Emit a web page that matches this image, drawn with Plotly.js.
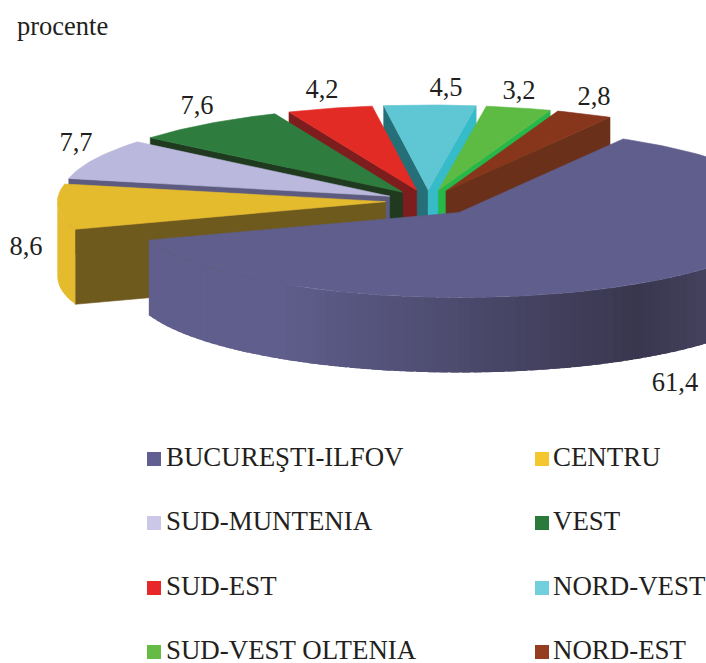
<!DOCTYPE html>
<html>
<head>
<meta charset="utf-8">
<script src="https://cdn.plot.ly/plotly-3.0.1.min.js"></script>
<style>html,body{margin:0;padding:0;background:#fff}#chart{width:706px;height:663px}</style>
</head>
<body>
<div id="chart"></div>
<script>
const regions = ["BUCUREŞTI-ILFOV","CENTRU","SUD-MUNTENIA","VEST","SUD-EST","NORD-VEST","SUD-VEST OLTENIA","NORD-EST"];
const shares = [61.4,8.6,7.7,7.6,4.2,4.5,3.2,2.8];
const topColors = ["#5f5e8c","#e5bb2e","#bab8dc","#2e7d3e","#e32b26","#5fc6d3","#5dbb43","#87361c"];
const legendColors = ["#615f91","#f5c72e","#cac8e6","#2a7a3c","#e8272a","#72cfdc","#66bb44","#963c20"];
const hiWallColors = ["#5f5e8c","#6f5a1e","#5d5b80","#1f3a1f","#7e1d1e","#257078","#27b84a","#6b3019"];
const loWallColors = ["#5f5e8c","#6f5a1e","#5d5b80","#1f3a1f","#7e1d1e","#35bcc8","#27b84a","#6b3019"];
const valueLabelX = [675,26,76,197,322,446,519,594];
const valueLabelY = [384,248,144,107,91,89,92,98];

const CX=428, CY=201, RX=328, RY=85, DEPTH=75, EXPLODE=0.13, START=60;
const rad=d=>d*Math.PI/180;
const total=shares.reduce((a,b)=>a+b,0);
let cursor=START;
const slices=shares.map((v,i)=>{
  const hi=cursor, lo=cursor-v/total*360; cursor=lo;
  const mid=(hi+lo)/2;
  return {i,hi,lo,mid,
    ox:CX+EXPLODE*RX*Math.cos(rad(mid))+(i===0?4:0),
    oy:CY-EXPLODE*RY*Math.sin(rad(mid))+(i===0?3:0)};
});
const rim=(s,a,dz)=>[s.ox+RX*Math.cos(rad(a)), s.oy-RY*Math.sin(rad(a))+dz];
const traces=[];
function poly(pts,color){
  traces.push({type:"scatter",mode:"lines",x:pts.map(p=>p[0]),y:pts.map(p=>p[1]),
    fill:"toself",fillcolor:color,line:{color:color,width:0.6},hoverinfo:"skip",showlegend:false});
}
function mix(a,b,t){
  const h=c=>[1,3,5].map(k=>parseInt(c.substr(k,2),16));
  const A=h(a),B=h(b);
  return "rgb("+A.map((v,k)=>Math.round(v+(B[k]-v)*t)).join(",")+")";
}
function blueShade(x){
  const t=(x-280)/(640-280);
  if(t<0) return "#5f5e8c";
  if(t<=1) return mix("#5f5e8c","#39364e",t);
  return mix("#39364e","#45425f",Math.min(1,(x-640)/70));
}
function cutFace(s,a,color){
  const p=rim(s,a,0), q=rim(s,a,DEPTH);
  poly([[s.ox,s.oy],p,q,[s.ox,s.oy+DEPTH],[s.ox,s.oy]],color);
}
function drawSlice(s){
  const i=s.i;
  if(Math.cos(rad(s.hi))<0) cutFace(s,s.hi,hiWallColors[i]);
  if(Math.cos(rad(s.lo))>0) cutFace(s,s.lo,loWallColors[i]);
  // Outer wall: each strip overlaps the previous one, so no seams show through.
  const strips=[];
  for(let a=s.hi;a>s.lo;a-=2) strips.push([a,Math.max(a-2,s.lo)]);
  strips.filter(([a,b])=>Math.sin(rad((a+b)/2))<0).forEach(([a,b])=>{
    const e=Math.max(b-1.5,s.lo);
    const p1=rim(s,a,0),p2=rim(s,e,0),p3=rim(s,e,DEPTH),p4=rim(s,a,DEPTH);
    const arcTop=[p1,rim(s,(a+e)/2,0),p2], arcBot=[p3,rim(s,(a+e)/2,DEPTH),p4];
    const col=i===0?blueShade((p1[0]+rim(s,b,0)[0])/2):topColors[i];
    traces.push({type:"scatter",mode:"lines",x:[...arcTop,...arcBot,p1].map(p=>p[0]),y:[...arcTop,...arcBot,p1].map(p=>p[1]),
      fill:"toself",fillcolor:col,line:{width:0},hoverinfo:"skip",showlegend:false});
  });
  const top=[[s.ox,s.oy]];
  for(let a=s.hi;a>s.lo;a-=1) top.push(rim(s,a,0));
  top.push(rim(s,s.lo,0)); top.push([s.ox,s.oy]);
  poly(top,topColors[i]);
}
[...slices].sort((a,b)=>Math.sin(rad(b.mid))-Math.sin(rad(a.mid))).forEach(drawSlice);

const font={family:"Liberation Serif",size:26.5,color:"#231f20"};
const legendFont={family:"Liberation Serif",size:26.9,color:"#231f20"};
traces.push({type:"scatter",mode:"text",x:valueLabelX,y:valueLabelY,
  text:shares.map(v=>v.toFixed(1).replace(".",",")),textposition:"middle center",
  textfont:font,hoverinfo:"skip",showlegend:false});

const legendRowY=[459,523,588,652];
const legendColX=[154,542];
const legendTextX=[166,553];
const legX=regions.map((_,i)=>legendColX[i%2]);
const legTX=regions.map((_,i)=>legendTextX[i%2]);
const legY=regions.map((_,i)=>legendRowY[Math.floor(i/2)]);
traces.push({type:"scatter",mode:"markers",x:legX,y:legY,
  marker:{symbol:"square",size:14,color:legendColors,line:{width:0}},hoverinfo:"skip",showlegend:false});
traces.push({type:"scatter",mode:"text",x:legTX,y:legY,text:regions,
  textposition:"middle right",textfont:legendFont,hoverinfo:"skip",showlegend:false,cliponaxis:false});

const hidden={visible:false,fixedrange:true};
Plotly.newPlot("chart",traces,{
  width:706,height:663,margin:{l:0,r:0,t:0,b:0},
  paper_bgcolor:"#fff",plot_bgcolor:"#fff",
  title:{text:"procente",font:font,x:17/706,xanchor:"left",xref:"paper",y:1-26/663,yanchor:"middle",yref:"paper",automargin:false},
  xaxis:Object.assign({range:[0,706]},hidden),
  yaxis:Object.assign({range:[663,0]},hidden),
  showlegend:false
},{displayModeBar:false,staticPlot:true});
</script>
</body>
</html>
